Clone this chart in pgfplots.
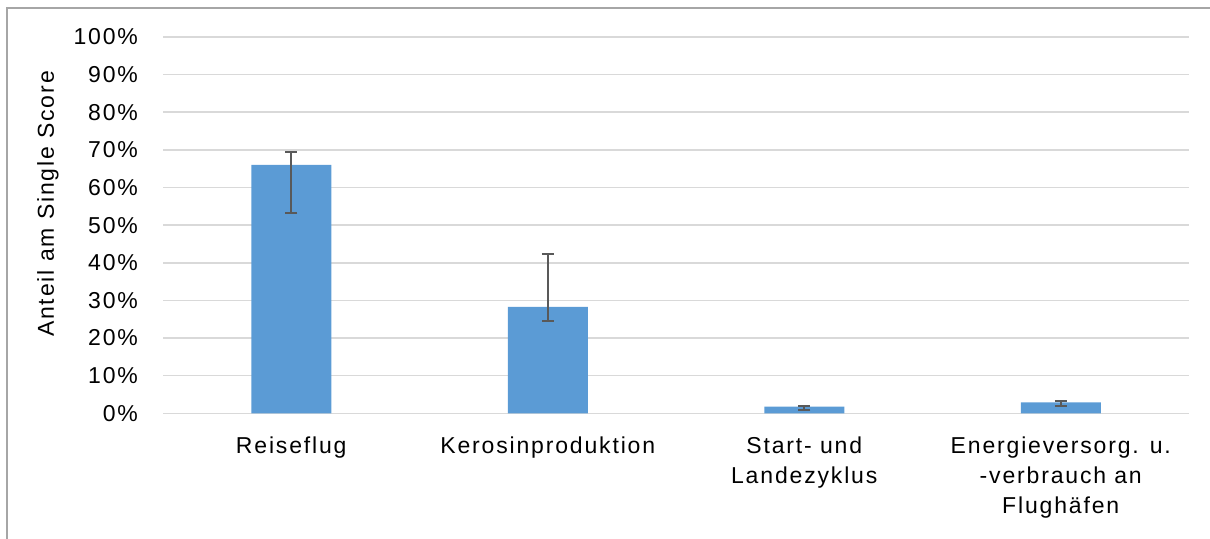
\documentclass[border=0pt]{standalone}
\usepackage{pgfplots}
\pgfplotsset{compat=1.18}
\usepackage{fontspec}
\setmainfont{Liberation Sans}[LetterSpace=8]
\definecolor{barblue}{HTML}{5B9BD5}
\definecolor{gridgray}{HTML}{D9D9D9}
\definecolor{errgray}{HTML}{595959}
\definecolor{framegray}{HTML}{A6A6A6}
\begin{document}
\begin{tikzpicture}
\useasboundingbox (0,0) rectangle (605pt,-269pt);
\draw[framegray, line width=1pt] (3.5pt,-270pt) -- (3.5pt,-4.2pt) -- (606pt,-4.2pt);
\begin{axis}[
  at={(81.5pt,-206.65pt)}, anchor=south west,
  scale only axis,
  width=513pt, height=188.15pt,
  xmin=-0.5, xmax=3.5,
  ymin=0, ymax=100,
  ytick={0,10,...,100},
  yticklabels={0\%,10\%,20\%,30\%,40\%,50\%,60\%,70\%,80\%,90\%,100\%},
  xtick={0,1,2,3},
  xticklabels={Reiseflug, Kerosinproduktion, {Start- und\\Landezyklus}, {Energieversorg. u.\\-verbrauch an\\Flughäfen}},
  xticklabel style={align=center, font=\fontsize{11.5}{15}\selectfont, yshift=-8pt},
  yticklabel style={font=\fontsize{11.5}{13}\selectfont, xshift=-9pt},
  axis line style={draw=none},
  tick style={draw=none},
  ymajorgrids, grid style={gridgray, line width=0.8pt},
  clip=false,
]
\addplot[ybar, bar width=40pt, fill=barblue, draw=none,
  error bars/.cd, y dir=both, y explicit,
  error bar style={errgray, line width=1pt},
  error mark options={errgray, line width=1pt, rotate=90, mark size=3pt}]
  coordinates {
  (0,66.0) += (0,3.5) -= (0,12.9)
  (1,28.3) += (0,14.1) -= (0,3.8)
  (2,1.8) += (0,0.15) -= (0,1.0)
  (3,2.9) += (0,0.5) -= (0,0.9)
  };
\end{axis}
\node[rotate=90, font=\fontsize{11.5}{13}\selectfont] at (24pt,-102pt) {Anteil am Single Score};
\end{tikzpicture}
\end{document}
